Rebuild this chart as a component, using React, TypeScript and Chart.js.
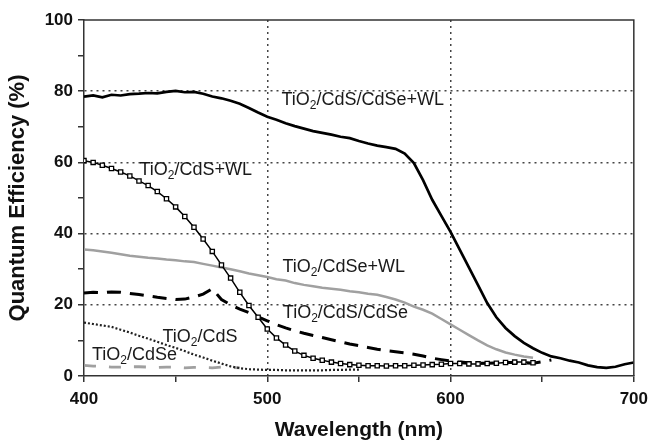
import React, { useEffect, useRef } from "react";
import { Chart, registerables } from "chart.js";

Chart.register(...registerables);

const wavelengths = [
  400, 405, 410, 415, 420, 425, 430, 435, 440, 445, 450, 455, 460, 465, 470, 475, 480, 485, 490, 495,
  500, 505, 510, 515, 520, 525, 530, 535, 540, 545, 550, 555, 560, 565, 570, 575, 580, 585, 590, 595,
  600, 605, 610, 615, 620, 625, 630, 635, 640, 645, 650, 655, 660, 665, 670, 675, 680, 685, 690, 695, 700,
];

const seriesNames = [
  "TiO2/CdS/CdSe+WL",
  "TiO2/CdS+WL",
  "TiO2/CdSe+WL",
  "TiO2/CdS/CdSe",
  "TiO2/CdS",
  "TiO2/CdSe",
];

const cdsCdseWL = [
  78.5, 78.8, 78.3, 79, 78.8, 79.2, 79.3, 79.5, 79.4, 79.8, 80.1, 79.7, 79.8, 79.3, 78.5, 78, 77.3, 76.5, 75.3, 74,
  72.8, 72, 71, 70.2, 69.5, 68.8, 68.3, 67.8, 67.2, 66.8, 66, 65.3, 64.7, 64.3, 63.8, 62.5, 59.8, 55, 49.5, 45,
  40.5, 35.5, 30.5, 25.5, 20.5, 16.5, 13.5, 11.2, 9.3, 7.8, 6.5, 5.5, 5, 4.3, 3.8, 3, 2.5, 2.3, 2.6, 3.3, 3.8,
];

const cdsWL = [
  60.5, 60, 59.2, 58.3, 57.3, 56.2, 54.8, 53.5, 51.8, 49.8, 47.5, 44.8, 41.8, 38.5, 35, 31.2, 27.5, 23.5, 19.8, 16.5,
  13.2, 10.7, 8.7, 7, 5.8, 5, 4.4, 3.9, 3.5, 3.2, 3, 2.9, 2.9, 2.8, 2.9, 2.9, 3, 3.1, 3.2, 3.3,
  3.5, 3.5, 3.4, 3.4, 3.5, 3.6, 3.8, 3.9, 3.9, 3.7,
];

const cdseWL = [
  35.5, 35.3, 35, 34.6, 34.2, 33.8, 33.5, 33.2, 33, 32.7, 32.5, 32.2, 32, 31.5, 31, 30.5, 30, 29.4, 28.8, 28.3,
  27.8, 27.2, 26.8, 26.1, 25.6, 25.2, 24.8, 24.5, 24.2, 23.8, 23.5, 23.1, 22.8, 22.2, 21.5, 20.6, 19.5, 18.6, 17.5, 16,
  14.5, 13, 11.5, 10, 8.6, 7.5, 6.6, 6, 5.5, 5.1,
];

const cdsCdse = [
  23.3, 23.5, 23.4, 23.6, 23.5, 23.2, 22.9, 22.5, 22.1, 21.8, 21.5, 21.6,
  22.2, 23, 24.5, 21.5, 20, 18.8, 17.8, 16.6, 15.5, 14.4, 13.5, 12.7,
  12, 11.4, 10.8, 10.2, 9.6, 9, 8.5, 8, 7.5, 7.1, 6.8, 6.5,
  6.1, 5.6, 5, 4.6, 4.2, 3.9, 3.7, 3.6, 3.6, 3.7, 3.8, 3.8,
  3.7, 3.6, 4, 4.5,
];

const cds = [
  15, 14.6, 14.2, 13.8, 13, 12.2, 11.3, 10.5, 9.6, 8.7, 7.9,
  7, 6, 5.2, 4.3, 3.5, 2.7, 2.2, 1.9, 1.8, 1.7,
  1.7, 1.6, 1.6, 1.6, 1.6, 1.6, 1.7, 1.7, 1.8, 1.8,
];

const cdse = [3, 2.8, 2.7, 2.5, 2.5, 2.6, 2.6, 2.5, 2.4, 2.5, 2.5, 2.3, 2.4, 2.4, 2.3, 2.5, 2.4, 2.3];

const xMajorTicks = [400, 500, 600, 700];
const yMajorTicks = [0, 20, 40, 60, 80, 100];

const toPoints = (vals: number[]) => vals.map((v, i) => ({ x: wavelengths[i], y: v }));

const FONT = '"Liberation Sans", Arial, Helvetica, sans-serif';

// label anchors in data coordinates (wavelength, efficiency)
const labelAnchors: [number, number][] = [
  [507.7, 77.5],
  [430.3, 57.9],
  [508.3, 30.6],
  [508.5, 17.7],
  [442.8, 11],
  [404.3, 5.9],
];

function drawSubLabel(ctx: CanvasRenderingContext2D, x: number, y: number, text: string) {
  const head = text.slice(0, 3);
  const sub = text.slice(3, 4);
  const rest = text.slice(4);
  ctx.fillStyle = "#1a1a1a";
  ctx.textBaseline = "middle";
  ctx.textAlign = "left";
  ctx.font = `18px ${FONT}`;
  ctx.fillText(head, x, y);
  let w = ctx.measureText(head).width;
  ctx.font = `12px ${FONT}`;
  ctx.fillText(sub, x + w, y + 6);
  w += ctx.measureText(sub).width;
  ctx.font = `18px ${FONT}`;
  ctx.fillText(rest, x + w, y);
}

const annotPlugin = {
  id: "annotPlugin",
  afterDatasetsDraw(chart: any) {
    const { ctx, chartArea, scales } = chart;
    ctx.save();
    ctx.strokeStyle = "#333";
    ctx.lineWidth = 1.5;
    ctx.setLineDash([]);
    ctx.beginPath();
    ctx.moveTo(chartArea.left, chartArea.top);
    ctx.lineTo(chartArea.right, chartArea.top);
    ctx.lineTo(chartArea.right, chartArea.bottom);
    ctx.stroke();
    labelAnchors.forEach(([wl, v], i) => {
      drawSubLabel(ctx, scales.x.getPixelForValue(wl), scales.y.getPixelForValue(v), seriesNames[i]);
    });
    ctx.restore();
  },
};

export default function App() {
  const ref = useRef<HTMLCanvasElement | null>(null);

  useEffect(() => {
    if (!ref.current) return;
    const chart = new Chart(ref.current, {
      type: "line",
      data: {
        datasets: [
          {
            label: seriesNames[0],
            data: toPoints(cdsCdseWL),
            borderColor: "#000",
            borderWidth: 2.7,
            pointRadius: 0,
          },
          {
            label: seriesNames[1],
            data: toPoints(cdsWL),
            borderColor: "#000",
            borderWidth: 1.5,
            pointStyle: "rect",
            pointRadius: 3,
            pointBorderWidth: 1.3,
            pointBorderColor: "#000",
            pointBackgroundColor: "#fff",
          },
          {
            label: seriesNames[2],
            data: toPoints(cdseWL),
            borderColor: "#a0a0a0",
            borderWidth: 2.5,
            pointRadius: 0,
          },
          {
            label: seriesNames[3],
            data: toPoints(cdsCdse),
            borderColor: "#000",
            borderWidth: 3,
            borderDash: [14, 9],
            pointRadius: 0,
          },
          {
            label: seriesNames[4],
            data: toPoints(cds),
            borderColor: "#222",
            borderWidth: 2.2,
            borderDash: [2, 2],
            pointRadius: 0,
          },
          {
            label: seriesNames[5],
            data: toPoints(cdse),
            borderColor: "#a0a0a0",
            borderWidth: 2.8,
            borderDash: [12, 13],
            pointRadius: 0,
          },
        ],
      },
      options: {
        animation: false,
        responsive: true,
        maintainAspectRatio: false,
        layout: { padding: { top: 20, right: 17, left: 0, bottom: 0 } },
        plugins: { legend: { display: false }, tooltip: { enabled: false } },
        elements: { line: { tension: 0 } },
        scales: {
          x: {
            type: "linear",
            min: 400,
            max: 700,
            afterFit: (s: any) => {
              s.height = 65;
            },
            ticks: {
              stepSize: 50,
              autoSkip: false,
              maxRotation: 0,
              padding: 7,
              color: "#111",
              font: { family: FONT, size: 17, weight: "bold" },
              callback: (v: any) => (xMajorTicks.includes(Number(v)) ? String(v) : ""),
            },
            grid: {
              color: (c: any) =>
                c.tick && (c.tick.value === 500 || c.tick.value === 600) ? "#444" : "rgba(0,0,0,0)",
              lineWidth: 1.5,
              tickColor: "#333",
              tickLength: 6,
              tickWidth: 1.5,
              tickBorderDash: [],
            },
            border: { display: true, color: "#333", width: 1.5, dash: [2, 4] },
            title: {
              display: true,
              text: "Wavelength (nm)",
              color: "#111",
              font: { family: FONT, size: 21, weight: "bold", lineHeight: 1 },
              padding: { top: 0, bottom: 0 },
            },
          },
          y: {
            min: 0,
            max: 100,
            afterFit: (s: any) => {
              s.width = 84;
            },
            ticks: {
              stepSize: 10,
              autoSkip: false,
              padding: 5,
              color: "#111",
              font: { family: FONT, size: 17, weight: "bold" },
              callback: (v: any) => (yMajorTicks.includes(Number(v)) ? String(v) : ""),
            },
            grid: {
              color: (c: any) =>
                c.tick && c.tick.value % 20 === 0 && c.tick.value > 0 && c.tick.value < 100
                  ? "#444"
                  : "rgba(0,0,0,0)",
              lineWidth: 1.5,
              tickColor: "#333",
              tickLength: 6,
              tickWidth: 1.5,
              tickBorderDash: [],
            },
            border: { display: true, color: "#333", width: 1.5, dash: [2, 4] },
            title: {
              display: true,
              text: "Quantum Efficiency (%)",
              color: "#111",
              font: { family: FONT, size: 22, weight: "bold", lineHeight: 1 },
              padding: { top: 7, bottom: 0 },
            },
          },
        },
      },
      plugins: [annotPlugin],
    });
    return () => chart.destroy();
  }, []);

  return (
    <div style={{ position: "fixed", left: 0, top: 0, width: 655, height: 441, background: "#fff" }}>
      <canvas ref={ref} />
    </div>
  );
}
